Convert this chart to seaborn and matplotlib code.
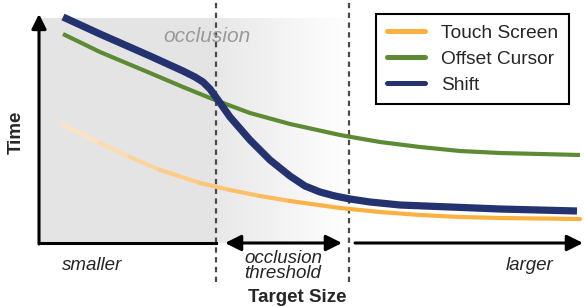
import numpy as np
import pandas as pd
import matplotlib
matplotlib.use("Agg")
import matplotlib.pyplot as plt
import seaborn as sns
from matplotlib.collections import LineCollection
from matplotlib.lines import Line2D
from matplotlib.colors import to_rgb, LinearSegmentedColormap

# ---- data (conceptual units: target size vs time) ----
size_shift = [24, 61, 111, 144, 156, 164, 171, 179, 191, 211, 231, 251, 266, 281, 296, 311, 331, 361, 411, 461, 538]
time_shift = [226, 209, 187, 172, 166, 161, 154, 143, 126, 103, 83, 67, 57, 51, 47, 44, 41, 38, 36, 34, 32]

size_offset = [24, 61, 111, 144, 176, 211, 251, 301, 341, 381, 421, 461, 501, 541]
time_offset = [209, 191, 170, 156, 143, 130, 119, 108, 101, 96, 92, 90, 89, 88]

size_touch = [24, 61, 91, 121, 161, 191, 221, 251, 301, 341, 381, 421, 461, 541]
time_touch = [118, 100, 86, 73, 60, 53, 47, 42, 35, 31, 28, 26, 25, 24]

series_names = ["Touch Screen", "Offset Cursor", "Shift"]
series_colors = ["#fbb040", "#5c8b33", "#24336f"]
occlusion_edge = 177      # start of occlusion threshold
threshold_edge = 310      # end of occlusion threshold

sns.set_style("white")
plt.rcParams['font.family'] = ['Liberation Sans', 'DejaVu Sans']

fig = plt.figure(figsize=(5.84, 3.06), dpi=100)
ax = fig.add_axes([0, 0, 1, 1])

# background regions
ax.fill_between([0, occlusion_edge], [0, 0], [225, 225], color="#e4e4e4", lw=0, zorder=0)
grad_cmap = LinearSegmentedColormap.from_list("g", ["#e8e8e8", "#ffffff"])
ax.imshow(np.linspace(0, 1, 256).reshape(1, -1), extent=[occlusion_edge, threshold_edge + 2, 0, 225],
          aspect="auto", cmap=grad_cmap, zorder=0)

# dashed threshold lines
ax.vlines([occlusion_edge, threshold_edge], ymin=-39, ymax=243, colors="#4a4a4a",
          linestyles=(0, (2.4, 2.0)), lw=1.6, zorder=1)

# Touch Screen line with fading colour
pts = np.column_stack([size_touch, time_touch])
segs = np.stack([pts[:-1], pts[1:]], axis=1)
mid = (pts[:-1, 0] + pts[1:, 0]) / 2
t = np.clip((mid - 24) / (290 - 24), 0, 1)
c0, c1 = np.array(to_rgb("#fde6d0")), np.array(to_rgb(series_colors[0]))
cols = [tuple(c0 + (c1 - c0) * v ** 0.9) for v in t]
lc = LineCollection(segs, colors=cols, linewidths=3.0, capstyle="round", joinstyle="round", zorder=3)
ax.add_collection(lc)

df_off = pd.DataFrame({"size": size_offset, "time": time_offset})
df_shift = pd.DataFrame({"size": size_shift, "time": time_shift})
sns.lineplot(data=df_off, x="size", y="time", color=series_colors[1], lw=3.0, ax=ax,
             sort=False, zorder=4, solid_capstyle="butt", solid_joinstyle="round")
sns.lineplot(data=df_shift, x="size", y="time", color=series_colors[2], lw=5.2, ax=ax,
             sort=False, zorder=5, solid_capstyle="butt", solid_joinstyle="round")

# axes
ax.plot([0, occlusion_edge], [0, 0], color="black", lw=2.2, solid_capstyle="projecting", zorder=6)
ax.annotate("", xy=(0, 229), xytext=(0, -1),
            arrowprops=dict(arrowstyle="-|>", color="black", lw=2.2, mutation_scale=22,
                            shrinkA=0, shrinkB=0), zorder=6)
ax.annotate("", xy=(186, 0), xytext=(303, 0),
            arrowprops=dict(arrowstyle="<|-|>", color="black", lw=2.2, mutation_scale=24,
                            shrinkA=0, shrinkB=0), zorder=6)
ax.annotate("", xy=(544, 0), xytext=(316, 0),
            arrowprops=dict(arrowstyle="-|>", color="black", lw=2.2, mutation_scale=24,
                            shrinkA=0, shrinkB=0), zorder=6)

# texts
ax.text(168, 206, "occlusion", color="#9a9a9a", style="italic", fontsize=15, ha="center", va="center")
ax.text(53, -23, "smaller", style="italic", fontsize=13.5, ha="center", va="center")
ax.text(244, -23, "occlusion\nthreshold", style="italic", fontsize=13.5, ha="center", va="center",
        linespacing=0.78)
ax.text(491, -23, "larger", style="italic", fontsize=13.5, ha="center", va="center")
ax.text(258, -59, "Target Size", weight="bold", fontsize=13.5, ha="center", va="baseline")
ax.text(-23, 111, "Time", weight="bold", fontsize=13.5, ha="center", va="center", rotation=90)

handles = [Line2D([], [], color=c, lw=3.6) for c in series_colors]
leg = ax.legend(handles, series_names, loc="upper right",
                bbox_to_anchor=(569 / 584, 1 - 14 / 306), bbox_transform=fig.transFigure,
                frameon=True, fancybox=False, framealpha=1, edgecolor="black",
                fontsize=13.8, handlelength=2.0, handletextpad=0.85, labelspacing=0.44,
                borderpad=0.55, borderaxespad=0)
leg.get_frame().set_linewidth(1.5)

ax.set_xlim(-39, 545)
ax.set_ylim(-63, 243)
ax.axis("off")

fig.savefig("out.png", dpi=100)
